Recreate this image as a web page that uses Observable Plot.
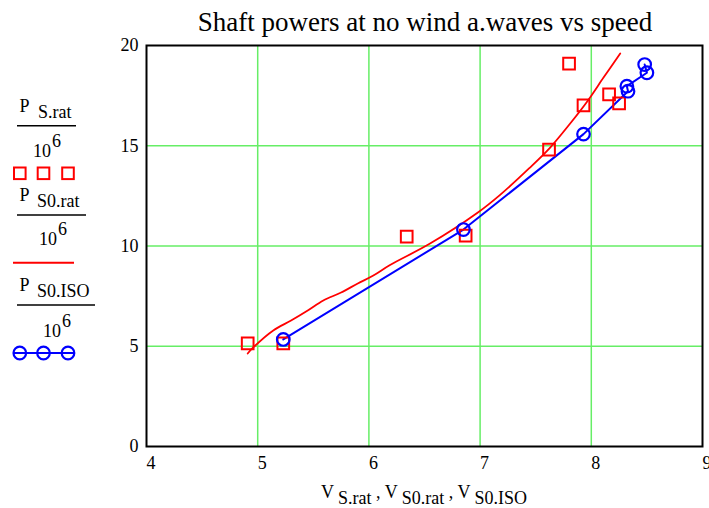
<!DOCTYPE html>
<html>
<head>
<meta charset="utf-8">
<script src="https://cdn.jsdelivr.net/npm/d3@7"></script>
<script src="https://cdn.jsdelivr.net/npm/@observablehq/plot@0.6"></script>
<style>
  body { margin: 0; background: #fff; }
  #wrap { position: relative; width: 709px; height: 508px; }
  #wrap svg { position: absolute; left: 0; top: 0; }
</style>
</head>
<body>
<div id="wrap"></div>
<script>
// ---- data ----
const title = "Shaft powers at no wind a.waves vs speed";
const seriesNames = ["S.rat", "S0.rat", "S0.ISO"];
const xTicks = [4, 5, 6, 7, 8, 9];
const yTicks = [0, 5, 10, 15, 20];
const xGrid = [5, 6, 7, 8];
const yGrid = [5, 10, 15];

// P_S.rat (squares)
const vSRat = [4.91, 5.23, 6.34, 6.87, 7.62, 7.80, 7.93, 8.16, 8.25];
const pSRat = [5.14, 5.14, 10.47, 10.52, 14.81, 19.10, 17.01, 17.56, 17.11];
// P_S0.rat (red line)
const vS0Rat = [4.91, 4.96, 5.14, 5.30, 5.45, 5.59, 5.75, 5.90, 6.04, 6.19, 6.55, 6.98, 7.18, 7.44, 7.63, 7.81, 7.97, 8.11, 8.26];
const pS0Rat = [4.64, 4.94, 5.79, 6.28, 6.78, 7.28, 7.68, 8.13, 8.53, 9.05, 10.12, 11.67, 12.55, 13.87, 14.91, 16.11, 17.26, 18.40, 19.60];
// P_S0.ISO (blue line with circles)
const vS0ISO = [5.23, 6.85, 7.93, 8.33, 8.32, 8.50, 8.48];
const pS0ISO = [5.34, 10.82, 15.58, 17.72, 17.97, 18.64, 19.05];

const sRat = vSRat.map((v, i) => ({v, p: pSRat[i]}));
const s0Rat = vS0Rat.map((v, i) => ({v, p: pS0Rat[i]}));
const s0ISO = vS0ISO.map((v, i) => ({v, p: pS0ISO[i]}));

const RED = "#ff0000", BLUE = "#0000ff", GREEN = "#66ee66";
const FONT = "Liberation Serif, Times New Roman, serif";

const chart = Plot.plot({
  width: 709,
  height: 508,
  marginLeft: 146,
  marginRight: 7,
  marginTop: 45,
  marginBottom: 62,
  style: {fontFamily: FONT, fontSize: "18px", background: "transparent"},
  x: {domain: [4, 9]},
  y: {domain: [0, 20]},
  marks: [
    Plot.ruleX(xGrid, {stroke: GREEN, strokeWidth: 1.5}),
    Plot.ruleY(yGrid, {stroke: GREEN, strokeWidth: 1.5}),
    Plot.line(s0Rat, {x: "v", y: "p", stroke: RED, strokeWidth: 1.8, curve: "catmull-rom"}),
    Plot.line(s0ISO, {x: "v", y: "p", stroke: BLUE, strokeWidth: 2}),
    Plot.dot(sRat, {x: "v", y: "p", symbol: "square", r: 6.6, stroke: RED, strokeWidth: 2, fill: "none"}),
    Plot.dot(s0ISO, {x: "v", y: "p", symbol: "circle", r: 6.3, stroke: BLUE, strokeWidth: 2.2, fill: "none"}),
    Plot.frame({stroke: "#000", strokeWidth: 2}),
    Plot.axisX({ticks: xTicks, tickFormat: d => String(d), tickSize: 0, tickPadding: 10, textAnchor: "start",
      label: null, fill: "#000", fontSize: 18, fontFamily: FONT}),
    Plot.axisY({ticks: yTicks, tickFormat: d => String(d), tickSize: 0, tickPadding: 8,
      label: null, fill: "#000", fontSize: 18, fontFamily: FONT})
  ]
});

const wrap = document.getElementById("wrap");
wrap.appendChild(chart);

// ---- overlay: title, axis label, legend ----
const svg = d3.select(wrap).append("svg")
  .attr("width", 709).attr("height", 508)
  .style("pointer-events", "none")
  .attr("font-family", FONT);

svg.append("text").attr("x", 425).attr("y", 31).attr("text-anchor", "middle")
  .attr("font-size", 27).attr("fill", "#000").text(title);

// x axis label
const xl = svg.append("text").attr("x", 424).attr("y", 498).attr("text-anchor", "middle")
  .attr("font-size", 18).attr("fill", "#000");
seriesNames.forEach((n, i) => {
  xl.append("tspan").attr("dy", i === 0 ? 0 : -6).text(i === 0 ? "V" : " , V");
  xl.append("tspan").attr("dy", 6).attr("dx", 4).text(n);
});

// legend
const blocks = [
  {pY: 112, subX: 38, barY: 125.7, barX2: 76, denX: 33, denY: 157, markY: 173.3, kind: "square"},
  {pY: 201, subX: 37, barY: 215, barX2: 86, denX: 39, denY: 245, markY: 262.7, kind: "line"},
  {pY: 291, subX: 37, barY: 305, barX2: 95, denX: 43, denY: 337, markY: 353, kind: "circle"}
];
blocks.forEach((b, i) => {
  const t = svg.append("text").attr("x", 19.5).attr("y", b.pY).attr("font-size", 18).attr("fill", "#000");
  t.append("tspan").text("P");
  t.append("tspan").attr("x", b.subX).attr("dy", 6).text(seriesNames[i]);
  svg.append("line").attr("x1", 17).attr("x2", b.barX2).attr("y1", b.barY).attr("y2", b.barY)
    .attr("stroke", "#000").attr("stroke-width", 1.6);
  const d = svg.append("text").attr("x", b.denX).attr("y", b.denY).attr("font-size", 18).attr("fill", "#000");
  d.append("tspan").text("10");
  d.append("tspan").attr("dy", -10).attr("dx", 1).text("6");
  const xs = [19.8, 43.5, 68];
  if (b.kind === "square") {
    xs.forEach(x => svg.append("rect").attr("x", x - 5.8).attr("y", b.markY - 5.8)
      .attr("width", 11.6).attr("height", 11.6).attr("fill", "none").attr("stroke", RED).attr("stroke-width", 2));
  } else if (b.kind === "line") {
    svg.append("line").attr("x1", 13).attr("x2", 74).attr("y1", b.markY).attr("y2", b.markY)
      .attr("stroke", RED).attr("stroke-width", 2);
  } else {
    svg.append("line").attr("x1", 13).attr("x2", 75).attr("y1", b.markY).attr("y2", b.markY)
      .attr("stroke", BLUE).attr("stroke-width", 2);
    xs.forEach(x => svg.append("circle").attr("cx", x).attr("cy", b.markY).attr("r", 6.3)
      .attr("fill", "none").attr("stroke", BLUE).attr("stroke-width", 2.2));
  }
});
</script>
</body>
</html>
